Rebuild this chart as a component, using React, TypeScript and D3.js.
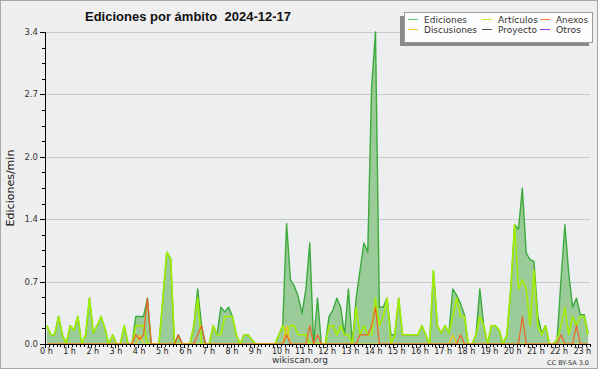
import * as d3 from 'd3';

const W = 600;
const H = 370;
const margin = { top: 32, right: 10, bottom: 26, left: 45 };

// one value per 10-minute slot, slot centred at (i + 0.5) * 10 min
const ediciones = [
  0.2, 0.1, 0.1, 0.3, 0.1, 0, 0.2, 0.15, 0.3, 0,
  0.1, 0.5, 0.12, 0.2, 0.3, 0.17, 0, 0.1, 0, 0,
  0.2, 0, 0, 0.3, 0.3, 0.3, 0.5, 0, 0, 0,
  0.5, 1.0, 0.93, 0, 0.1, 0, 0, 0, 0.2, 0.6,
  0.2, 0, 0, 0.2, 0.1, 0.4, 0.35, 0.4, 0.3, 0.1,
  0, 0.1, 0.1, 0.05, 0, 0, 0, 0, 0, 0,
  0.1, 0.2, 1.31, 0.7, 0.63, 0.52, 0.33, 0.6, 1.1, 0,
  0.5, 0, 0, 0.3, 0.37, 0.5, 0.4, 0.1, 0.6, 0,
  0.5, 0.8, 1.1, 1.0, 2.8, 3.4, 0.4, 0.4, 0.5, 0.1,
  0.1, 0.5, 0.1, 0.1, 0.1, 0.1, 0.1, 0.2, 0.1, 0,
  0.8, 0.2, 0.12, 0.2, 0.12, 0.6, 0.53, 0.44, 0.32, 0,
  0, 0.1, 0.6, 0.2, 0, 0.2, 0.2, 0.15, 0, 0.1,
  0.6, 1.3, 1.25, 1.7, 0.99, 0.92, 0.9, 0.3, 0.12, 0.2,
  0, 0, 0.05, 0.7, 1.3, 0.77, 0.4, 0.5, 0.32, 0.32,
  0.12,
];

const articulos = [
  0.2, 0.1, 0.1, 0.3, 0.1, 0, 0.2, 0.15, 0.3, 0,
  0.1, 0.5, 0.12, 0.2, 0.3, 0.17, 0, 0.1, 0, 0,
  0.2, 0, 0, 0.2, 0.2, 0.2, 0, 0, 0, 0,
  0.5, 1.0, 0.93, 0, 0, 0, 0, 0, 0.2, 0.5,
  0, 0, 0, 0.2, 0.1, 0.1, 0.3, 0.3, 0.3, 0.1,
  0, 0.1, 0.1, 0.05, 0, 0, 0, 0, 0, 0,
  0.1, 0.2, 0.1, 0.2, 0.2, 0.1, 0.1, 0.1, 0, 0,
  0, 0, 0, 0.2, 0.2, 0.1, 0.2, 0.1, 0.1, 0,
  0.4, 0.1, 0.2, 0.1, 0.1, 0.5, 0.2, 0.3, 0.5, 0,
  0.1, 0.5, 0.1, 0.1, 0.1, 0.1, 0.1, 0.2, 0.1, 0,
  0.8, 0.2, 0.12, 0.2, 0.12, 0.3, 0.5, 0.3, 0.3, 0,
  0, 0.1, 0.3, 0.2, 0, 0.2, 0.2, 0.15, 0, 0.1,
  0.6, 1.3, 0.6, 0.7, 0.6, 0.2, 0.8, 0.2, 0.1, 0.2,
  0, 0, 0.05, 0.2, 0.4, 0.1, 0.3, 0.2, 0.3, 0.3,
  0.1,
];

const anexos = [
  0, 0, 0, 0, 0, 0, 0, 0, 0, 0,
  0, 0, 0, 0, 0, 0, 0, 0, 0, 0,
  0, 0, 0, 0.1, 0.05, 0.1, 0.5, 0, 0, 0,
  0, 0, 0, 0, 0.1, 0, 0, 0, 0, 0.1,
  0.2, 0, 0, 0, 0, 0, 0, 0, 0, 0,
  0, 0, 0, 0, 0, 0, 0, 0, 0, 0,
  0, 0, 0.1, 0, 0, 0, 0, 0, 0.2, 0,
  0.1, 0, 0, 0, 0, 0, 0, 0, 0, 0,
  0, 0.1, 0.1, 0.1, 0.2, 0.4, 0, 0, 0, 0,
  0, 0, 0, 0, 0, 0, 0, 0, 0, 0,
  0, 0, 0, 0, 0, 0, 0, 0.1, 0, 0,
  0, 0, 0, 0, 0, 0, 0, 0, 0, 0,
  0, 0, 0, 0.3, 0, 0, 0, 0, 0, 0,
  0, 0, 0, 0.1, 0, 0, 0, 0.2, 0, 0,
  0,
];

const discusiones = [
  0, 0, 0, 0, 0, 0, 0, 0, 0, 0,
  0, 0, 0, 0, 0, 0, 0, 0, 0, 0,
  0, 0, 0, 0, 0.1, 0, 0, 0, 0, 0,
  0, 0, 0, 0, 0, 0, 0, 0, 0, 0,
  0, 0, 0, 0, 0, 0, 0, 0, 0, 0,
  0, 0, 0, 0, 0, 0, 0, 0, 0, 0,
  0, 0, 0.2, 0, 0, 0, 0, 0, 0, 0,
  0, 0, 0, 0, 0, 0, 0, 0, 0, 0,
  0, 0, 0, 0, 0, 0, 0, 0, 0, 0,
  0, 0, 0, 0, 0, 0, 0, 0, 0, 0,
  0, 0, 0, 0, 0, 0.1, 0, 0, 0, 0,
  0, 0, 0, 0, 0, 0, 0, 0, 0, 0,
  0, 0, 0, 0, 0, 0, 0, 0, 0, 0,
  0, 0, 0, 0, 0, 0, 0, 0, 0, 0,
  0,
];

const hourLabels = [
  '0 h', '1 h', '2 h', '3 h', '4 h', '5 h', '6 h', '7 h', '8 h', '9 h', '10 h', '11 h',
  '12 h', '13 h', '14 h', '15 h', '16 h', '17 h', '18 h', '19 h', '20 h', '21 h', '22 h', '23 h',
];
const yTickValues = [0, 0.68, 1.36, 2.04, 2.72, 3.4];
const yTickLabels = ['0.0', '0.7', '1.4', '2.0', '2.7', '3.4'];

const legendItems = [
  { name: 'Ediciones', color: '#66cc66', col: 0, row: 0, len: 43 },
  { name: 'Artículos', color: '#c6ee22', col: 1, row: 0, len: 40 },
  { name: 'Anexos', color: '#ff7733', col: 2, row: 0, len: 32 },
  { name: 'Discusiones', color: '#ffcc33', col: 0, row: 1, len: 53 },
  { name: 'Proyecto', color: '#555555', col: 1, row: 1, len: 39 },
  { name: 'Otros', color: '#9933ff', col: 2, row: 1, len: 25 },
];

const lineSeries = [
  { values: ediciones, color: '#3cab3c', width: 1.4 },
  { values: articulos, color: '#a3ee00', width: 1.6 },
  { values: discusiones, color: '#f5c518', width: 1.2 },
  { values: anexos, color: '#ef6420', width: 1.2 },
];

export default function App() {
  const x = d3.scaleLinear().domain([0, 23.5]).range([margin.left, W - margin.right]);
  const y = d3.scaleLinear().domain([0, 3.4]).range([H - margin.bottom, margin.top]);
  const slotTime = (i: number) => ((i + 0.5) * 10) / 60;

  const area = d3
    .area<number>()
    .x((_, i) => x(slotTime(i)))
    .y0(y(0))
    .y1((d) => y(d));
  const line = d3
    .line<number>()
    .x((_, i) => x(slotTime(i)))
    .y((d) => y(d));

  const x0 = margin.left;
  const x1 = W - margin.right;
  const yb = H - margin.bottom;
  const minorY = d3.range(0, 21).map((k) => k * 0.17);
  const minorX = d3.range(0, 23.5 * 6 + 1).map((k) => k / 6);
  const font = "'DejaVu Sans', sans-serif";

  return (
    <svg width={W} height={H} style={{ position: 'absolute', left: 0, top: 0 }}>
      <rect x={0} y={0} width={W} height={H} fill="#ffffff" />
      <rect x={0.5} y={0.5} width={597} height={368} fill="#efefef" stroke="#a8a8a8" />
      <rect x={x0} y={margin.top} width={x1 - x0} height={yb - margin.top} fill="#eceef0" />

      {/* grid */}
      <g shapeRendering="crispEdges">
        {yTickValues.slice(1).map((v) => (
          <line key={v} x1={x0} x2={x1} y1={Math.round(y(v)) + 0.5} y2={Math.round(y(v)) + 0.5} stroke="#c9c9c9" />
        ))}
      </g>

      <path d={area(ediciones) ?? ''} fill="#9ccb9a" />
      {lineSeries.map((s, k) => (
        <path key={k} d={line(s.values) ?? ''} fill="none" stroke={s.color} strokeWidth={s.width} strokeLinejoin="round" />
      ))}

      {/* y axis */}
      <g shapeRendering="crispEdges" stroke="#000">
        <line x1={x0 + 0.5} x2={x0 + 0.5} y1={margin.top} y2={yb} />
        {minorY.map((v) => (
          <line key={v} x1={x0 - 3} x2={x0} y1={Math.round(y(v)) + 0.5} y2={Math.round(y(v)) + 0.5} />
        ))}
        {yTickValues.map((v) => (
          <line key={v} x1={x0 - 5} x2={x0} y1={Math.round(y(v)) + 0.5} y2={Math.round(y(v)) + 0.5} />
        ))}
      </g>
      {yTickValues.map((v, i) => (
        <text key={v} x={38} y={y(v) + 3} textAnchor="end" fontSize={8.5} fontFamily={font} fill="#333">
          {yTickLabels[i]}
        </text>
      ))}

      {/* x axis */}
      <g shapeRendering="crispEdges" stroke="#000">
        <line x1={x0} x2={x1} y1={yb + 0.5} y2={yb + 0.5} />
        {minorX.map((t) => (
          <line key={t} x1={Math.round(x(t)) + 0.5} x2={Math.round(x(t)) + 0.5} y1={yb} y2={yb + 3} />
        ))}
        {hourLabels.map((_, h) => (
          <line key={h} x1={Math.round(x(h)) + 0.5} x2={Math.round(x(h)) + 0.5} y1={yb} y2={yb + 4} />
        ))}
      </g>
      {hourLabels.map((lab, h) => (
        <text key={lab} x={x(h) - 5} y={354} fontSize={8} fontFamily={font} fill="#222">
          {lab}
        </text>
      ))}

      <text
        transform={`translate(14,188) rotate(-90)`}
        textAnchor="middle"
        fontSize={11}
        fontFamily={font}
        fill="#111"
      >
        Ediciones/min
      </text>

      <text x={85} y={21} fontSize={13} fontWeight="bold" fontFamily="'Liberation Sans', sans-serif" fill="#111" textLength={206} lengthAdjust="spacingAndGlyphs">
        {'Ediciones por ámbito\u00a0 2024-12-17'}
      </text>

      {/* legend */}
      <rect x={400} y={16} width={189} height={30} fill="#8a8a8a" />
      <rect x={404.5} y={12.5} width={188} height={30} fill="#fdfdfd" stroke="#9a9a9a" />
      {legendItems.map((it) => {
        const lx = [408, 482, 540][it.col];
        const ly = [19.5, 29.5][it.row];
        return (
          <g key={it.name}>
            <line x1={lx} x2={lx + 10} y1={ly} y2={ly} stroke={it.color} strokeWidth={1} />
            <text
              x={lx + 16}
              y={ly + 3}
              fontSize={9}
              fontFamily={font}
              fill="#333"
              textLength={it.len}
              lengthAdjust="spacingAndGlyphs"
            >
              {it.name}
            </text>
          </g>
        );
      })}

      <text x={300} y={363} textAnchor="middle" fontSize={9} fontFamily={font} fill="#333">
        wikiscan.org
      </text>
      <text x={589} y={365} textAnchor="end" fontSize={6.5} fontFamily={font} fill="#333">
        CC BY-SA 3.0
      </text>
    </svg>
  );
}
